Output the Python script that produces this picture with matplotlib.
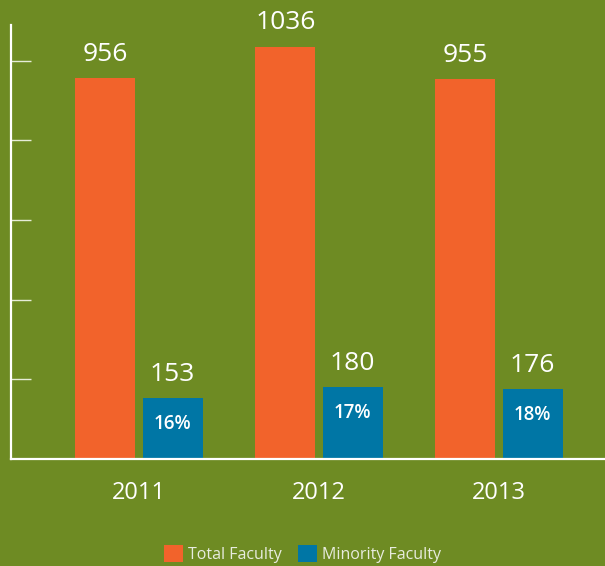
import matplotlib
matplotlib.use("Agg")
import matplotlib.pyplot as plt
import numpy as np

years = ["2011", "2012", "2013"]
total_faculty = [956, 1036, 955]
minority_faculty = [153, 180, 176]
minority_pct = ["16%", "17%", "18%"]

BG = "#6e8b23"
ORANGE = "#f2632b"
BLUE = "#0076a5"

plt.rcParams['font.family'] = ['Open Sans', 'DejaVu Sans']

fig = plt.figure(figsize=(6.05, 5.66), dpi=100, facecolor=BG)
ax = fig.add_axes([11/605, 107/566, 594/605, 434/566])
ax.set_facecolor(BG)

x = np.arange(len(years))
w = 0.333
off = 0.187
b1 = ax.bar(x - off, total_faculty, w, color=ORANGE, label="Total Faculty")
b2 = ax.bar(x + off, minority_faculty, w, color=BLUE, label="Minority Faculty")

for rect, v in zip(b1, total_faculty):
    ax.annotate(str(v), (rect.get_x() + rect.get_width()/2, rect.get_height()),
                xytext=(0, 8), textcoords="offset points", ha="center", va="bottom",
                color="white", fontsize=19, fontweight="normal")
for rect, v, p in zip(b2, minority_faculty, minority_pct):
    ax.annotate(str(v), (rect.get_x() + rect.get_width()/2, rect.get_height()),
                xytext=(0, 8), textcoords="offset points", ha="center", va="bottom",
                color="white", fontsize=19, fontweight="normal")
    ax.annotate(p, (rect.get_x() + rect.get_width()/2, rect.get_height()),
                xytext=(0, -18.5), textcoords="offset points", ha="center", va="center",
                color="white", fontsize=13.5, fontweight="semibold")

ax.set_xlim(-0.711, 2.589)
ax.set_ylim(0, 1090)
ax.set_xticks(x)
ax.set_xticklabels(years, color="white", fontsize=17, fontweight="normal")
ax.tick_params(axis="x", length=0, pad=16)
ax.set_yticks([200, 400, 600, 800, 1000])
ax.set_yticklabels([])
ax.tick_params(axis="y", direction="in", length=14.5, width=1, color="#e6ecd8")

for s in ["top", "right"]:
    ax.spines[s].set_visible(False)
for s in ["left", "bottom"]:
    ax.spines[s].set_color("white")
    ax.spines[s].set_linewidth(1.6)

leg = fig.legend(handles=[b1, b2], loc="lower center", bbox_to_anchor=(0.5, -0.014),
                 ncol=2, frameon=False, fontsize=11.5, handlelength=1.2, handleheight=1.2,
                 handletextpad=0.3, columnspacing=1.0, borderaxespad=0.3)
for t in leg.get_texts():
    t.set_color("#e8ecdf")

fig.savefig("out.png", dpi=100, facecolor=BG)
